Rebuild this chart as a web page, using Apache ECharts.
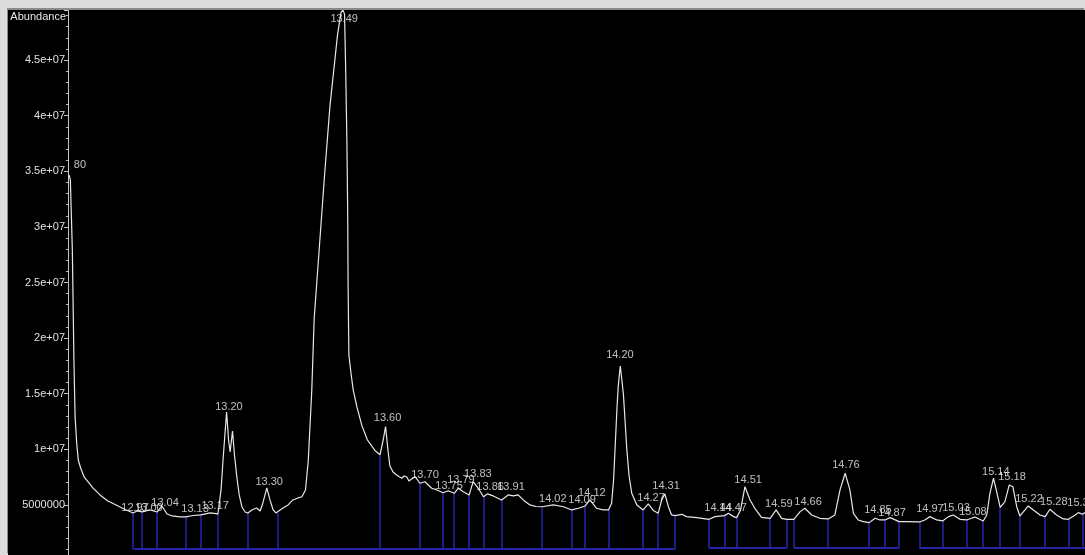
<!DOCTYPE html>
<html>
<head>
<meta charset="utf-8">
<script src="https://cdn.jsdelivr.net/npm/echarts@6/dist/echarts.min.js"></script>
<style>
html,body{margin:0;padding:0;width:1085px;height:555px;overflow:hidden;background:#dcdcdc}
#chart{position:absolute;left:8px;top:10px;width:1077px;height:545px;background:#000;box-shadow:-1px -2px 0 #8a8a8a}
</style>
</head>
<body>
<div id="chart"></div>
<script>
// Retention time (min) of the sampled trace
const times = [12.796,12.799,12.804,12.808,12.811,12.815,12.819,12.825,12.834,12.844,
12.856,12.874,12.894,12.915,12.935,12.958,12.968,12.981,13.001,13.019,
13.031,13.044,13.057,13.077,13.092,13.110,13.130,13.153,13.173,13.181,
13.186,13.195,13.200,13.204,13.210,13.215,13.221,13.227,13.234,13.242,
13.249,13.259,13.271,13.280,13.287,13.297,13.305,13.313,13.320,13.325,
13.338,13.351,13.363,13.376,13.386,13.395,13.402,13.411,13.417,13.430,
13.443,13.457,13.476,13.485,13.490,13.494,13.497,13.500,13.502,13.503,
13.505,13.510,13.516,13.526,13.538,13.552,13.571,13.584,13.592,13.598,
13.604,13.609,13.617,13.626,13.639,13.645,13.652,13.657,13.664,13.673,
13.685,13.698,13.715,13.728,13.744,13.757,13.772,13.782,13.795,13.810,
13.820,13.833,13.846,13.856,13.871,13.892,13.909,13.922,13.934,13.947,
13.964,13.979,13.995,14.023,14.049,14.070,14.087,14.104,14.116,14.133,
14.149,14.163,14.171,14.176,14.180,14.185,14.188,14.193,14.197,14.201,
14.205,14.209,14.215,14.222,14.235,14.251,14.264,14.277,14.289,14.298,
14.306,14.315,14.323,14.332,14.349,14.361,14.387,14.418,14.433,14.457,
14.467,14.480,14.488,14.498,14.509,14.522,14.534,14.551,14.573,14.588,
14.602,14.615,14.633,14.649,14.661,14.678,14.699,14.720,14.737,14.750,
14.763,14.775,14.784,14.796,14.809,14.824,14.839,14.851,14.864,14.877,
14.900,14.919,14.951,14.965,14.978,14.995,15.010,15.025,15.037,15.054,
15.071,15.092,15.113,15.122,15.130,15.139,15.147,15.156,15.168,15.179,
15.188,15.198,15.206,15.219,15.227,15.240,15.257,15.270,15.282,15.299,
15.316,15.329,15.346,15.354,15.365,15.374];

// Abundance of the trace, in millions
const abundanceM = [34.66,34.21,27.92,18.03,12.93,10.57,9.04,8.32,7.51,7.07,
6.53,5.90,5.36,5.00,4.64,4.28,4.46,4.37,4.55,4.37,
4.91,4.19,4.01,3.92,3.92,4.05,4.10,4.28,4.19,6.35,
9.04,13.36,10.84,9.76,11.65,9.49,7.51,5.90,4.82,4.37,
4.28,4.55,4.73,4.46,5.18,6.53,5.45,4.55,4.28,4.28,
4.73,5.00,5.45,5.63,5.74,6.35,8.95,15.33,21.72,28.10,
34.48,40.86,47.20,49.28,49.49,49.13,44.01,37.63,31.24,24.86,
18.48,16.95,15.33,13.72,12.13,10.84,9.90,9.52,10.84,12.04,
9.94,8.50,7.96,7.69,7.40,7.60,7.51,7.16,7.33,7.54,
6.95,7.09,6.50,6.35,6.10,6.28,6.05,6.50,6.19,5.90,
7.09,6.50,5.74,5.99,5.81,5.45,5.90,5.81,5.90,5.45,
5.00,4.86,4.84,5.00,4.84,4.55,4.70,4.91,5.45,4.70,
4.55,4.55,5.15,7.24,10.24,13.99,15.78,17.49,16.23,14.89,
12.64,10.24,7.69,6.05,5.00,4.55,5.09,4.50,4.25,5.45,
5.99,4.84,4.10,4.04,4.16,3.95,3.86,3.71,3.95,4.04,
4.25,3.95,3.86,4.55,6.64,5.45,4.70,3.89,3.80,4.55,
3.80,3.71,3.71,4.40,4.70,4.10,3.80,3.74,4.10,6.35,
7.85,6.35,4.25,3.65,3.50,3.41,3.80,3.65,3.65,3.86,
3.50,3.50,3.47,3.65,3.95,3.65,3.56,3.95,4.10,3.71,
3.65,3.92,3.56,4.10,6.05,7.40,6.19,4.79,5.29,6.80,
6.64,4.84,4.01,4.55,4.91,4.55,4.10,3.95,4.61,4.10,
3.74,3.71,4.10,4.31,4.16,4.40];

// Peak annotations: text, time and abundance (millions) where the text sits
const peakLabels = ['12.80','12.97','13.00','13.04','13.13','13.17','13.20','13.30','13.49','13.60',
'13.70','13.75','13.79','13.83','13.86','13.91','14.02','14.09','14.12','14.20',
'14.27','14.31','14.44','14.47','14.51','14.59','14.66','14.76','14.85','14.87',
'14.97','15.03','15.08','15.14','15.18','15.22','15.28','15.33'];
const labelTimes = [12.804,12.963,12.998,13.039,13.115,13.166,13.201,13.303,13.493,13.603,
13.698,13.759,13.789,13.832,13.863,13.916,14.022,14.096,14.121,14.192,
14.271,14.309,14.441,14.479,14.517,14.595,14.669,14.765,14.846,14.882,
14.978,15.044,15.087,15.145,15.186,15.229,15.292,15.361];
const labelLevelsM = [35.56,4.72,4.72,5.18,4.64,4.91,13.81,7.07,48.68,12.82,
7.69,6.71,7.24,7.78,6.62,6.62,5.54,5.45,6.08,18.48,
5.63,6.71,4.72,4.72,7.24,5.09,5.27,8.59,4.55,4.28,
4.64,4.72,4.37,7.96,7.51,5.54,5.27,5.18];

// Integration boundaries (drop lines): time and trace abundance (millions)
const dropTimes = [12.958,12.981,13.019,13.092,13.130,13.173,13.249,13.325,13.584,13.685,
13.744,13.772,13.810,13.846,13.892,13.995,14.070,14.104,14.163,14.251,
14.289,14.332,14.418,14.457,14.488,14.573,14.615,14.633,14.720,14.824,
14.864,14.900,14.951,15.010,15.071,15.113,15.156,15.206,15.270,15.329,15.365];
const dropTopsM = [4.28,4.37,4.37,3.92,4.10,4.19,4.28,4.28,9.52,6.95,
6.10,6.05,5.90,5.74,5.45,4.84,4.55,4.91,4.55,4.55,
4.25,4.04,3.71,4.04,3.86,3.80,3.71,3.71,3.74,3.41,
3.65,3.50,3.47,3.56,3.65,3.56,4.79,4.01,3.95,3.71,4.16];

// Integration baselines: start, end, level (millions)
const baseStart = [12.958, 14.418, 14.633, 14.951];
const baseEnd   = [14.332, 14.615, 14.900, 15.380];
const baseLevelM = [1.05, 1.13, 1.13, 1.13];

// Y axis: visible range and tick step (labels at multiples of the step)
const yTickStep = 5e6;
const yMin = 0.5e6;
const yMax = 49.5e6;

const M = 1e6;
const traceData = times.map((t, i) => [t, abundanceM[i] * M]);

function baseFor(t) {
  for (let i = 0; i < baseStart.length; i++) {
    if (t >= baseStart[i] - 0.0005 && t <= baseEnd[i] + 0.0005) return baseLevelM[i] * M;
  }
  return baseLevelM[0] * M;
}
const dropData = dropTimes.map((t, i) => ({coords: [[t, baseFor(t)], [t, dropTopsM[i] * M]]}));
const baseData = baseStart.map((s, i) => ({coords: [[s, baseLevelM[i] * M], [baseEnd[i], baseLevelM[i] * M]]}));
const labelData = peakLabels.map((txt, i) => [labelTimes[i], labelLevelsM[i] * M, txt]);

const FONT = 'Liberation Sans, Arial, sans-serif';
const chart = echarts.init(document.getElementById('chart'), null, {renderer: 'canvas'});
chart.setOption({
  backgroundColor: '#000',
  animation: false,
  grid: {left: 60, right: 0, top: 0, bottom: 0, outerBoundsMode: 'none'},
  xAxis: {type: 'value', min: 12.793, max: 15.371, show: false},
  yAxis: {
    type: 'value', min: yMin, max: yMax, minInterval: yTickStep, maxInterval: yTickStep,
    name: 'Abundance', nameLocation: 'end', nameGap: -1,
    nameTextStyle: {color: '#e6e6e6', fontSize: 11, fontFamily: FONT, align: 'right', verticalAlign: 'top', padding: [0, 2, 0, 0]},
    axisLine: {show: true, lineStyle: {color: '#c4c4c4', width: 1}},
    axisTick: {show: true, length: 4, lineStyle: {color: '#c4c4c4'}},
    minorTick: {show: true, splitNumber: 5, length: 2, lineStyle: {color: '#bcbcbc'}},
    splitLine: {show: false},
    axisLabel: {
      color: '#e0e0e0', fontSize: 11, fontFamily: FONT, margin: 3, showMaxLabel: false, showMinLabel: false,
      formatter: v => {
        if (v === 0 || Math.abs(v % yTickStep) > 1) return '';
        if (v < 1e7) return String(Math.round(v));
        return (Math.round(v / 1e6) / 10) + 'e+07';
      }
    }
  },
  series: [
    {
      type: 'lines', coordinateSystem: 'cartesian2d', silent: true, z: 1,
      lineStyle: {color: '#2424a4', width: 1.6, opacity: 1},
      data: dropData
    },
    {
      type: 'lines', coordinateSystem: 'cartesian2d', silent: true, z: 1,
      lineStyle: {color: '#2424a4', width: 2, opacity: 1},
      data: baseData
    },
    {
      type: 'line', data: traceData, showSymbol: false, symbol: 'none', z: 3,
      lineStyle: {color: '#e8e8e8', width: 1.2}
    },
    {
      type: 'scatter', data: labelData, symbolSize: 1, z: 4, silent: true,
      itemStyle: {color: 'rgba(0,0,0,0)'},
      label: {
        show: true, position: 'inside', color: '#ececec', fontSize: 11, fontFamily: FONT,
        // the leading part of a label that falls left of the plot edge is hidden, as in the instrument view
        formatter: p => p.dataIndex === 0 ? '{h|' + p.value[2].slice(0, 3) + '}' + p.value[2].slice(3) : p.value[2],
        rich: {h: {color: 'rgba(0,0,0,0)', fontSize: 11, fontFamily: FONT}}
      }
    }
  ]
});
</script>
</body>
</html>
